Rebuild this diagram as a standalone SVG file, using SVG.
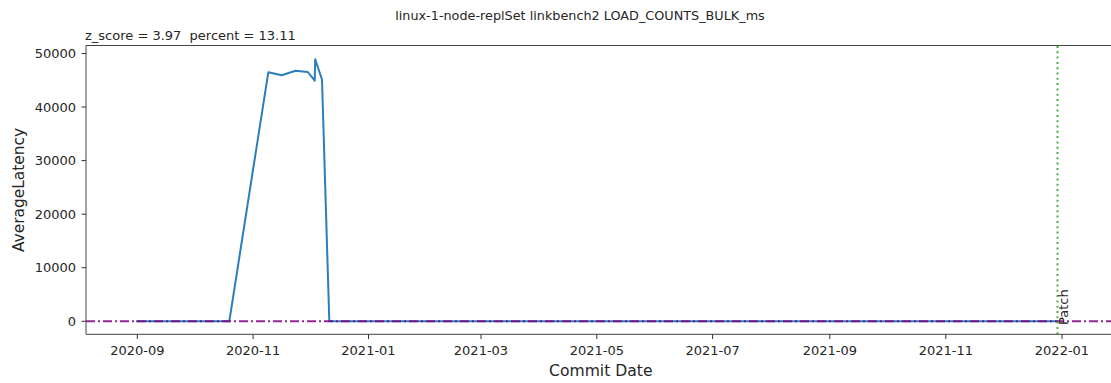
<svg xmlns="http://www.w3.org/2000/svg" width="1111" height="383" viewBox="0 0 1111 383">
<style>
text{font-family:"DejaVu Sans","Liberation Sans",sans-serif;fill:#262626}
.tick{stroke:#333;stroke-width:1}
.tl{font-size:13px}
.spine{stroke:#444;stroke-width:1;fill:none}
.pre{white-space:pre}
</style>
<rect width="1111" height="383" fill="#fff"/>
<g id="title">
<text x="580" y="19.5" font-size="12.8" text-anchor="middle">linux-1-node-replSet linkbench2 LOAD_COUNTS_BULK_ms</text>
<text class="pre" x="85" y="39.5" font-size="13" xml:space="preserve">z_score = 3.97  percent = 13.11</text>
</g>
<g id="series">
<polyline fill="none" stroke="#2a7fba" stroke-width="2" stroke-linejoin="round" points="136,321.3 229.3,321.3 268.3,72.3 281.7,75.3 295.5,70.7 307.8,72 314.7,80.7 315.2,59.2 322,79.5 329.3,321.3 1057.5,321.3"/>
<line x1="86" y1="321.3" x2="1111" y2="321.3" stroke="#800080" stroke-opacity="0.85" stroke-width="2" stroke-dasharray="9 3 2 3"/>
<line x1="1057.5" y1="46" x2="1057.5" y2="334" stroke="#2ca02c" stroke-opacity="0.85" stroke-width="2" stroke-dasharray="2 3.3"/>
<text transform="translate(1068,325) rotate(-90)" font-size="13">Patch</text>
</g>
<g id="axes">
<polyline class="spine" points="1111,45.5 86,45.5 86,334.3 1111,334.3"/>
<g class="ytick">
<line class="tick" x1="81.5" y1="321.3" x2="86" y2="321.3"/>
<line class="tick" x1="81.5" y1="267.7" x2="86" y2="267.7"/>
<line class="tick" x1="81.5" y1="214.2" x2="86" y2="214.2"/>
<line class="tick" x1="81.5" y1="160.6" x2="86" y2="160.6"/>
<line class="tick" x1="81.5" y1="107" x2="86" y2="107"/>
<line class="tick" x1="81.5" y1="53.5" x2="86" y2="53.5"/>
<text class="tl" x="76" y="326" text-anchor="end">0</text>
<text class="tl" x="76" y="272.4" text-anchor="end">10000</text>
<text class="tl" x="76" y="218.9" text-anchor="end">20000</text>
<text class="tl" x="76" y="165.3" text-anchor="end">30000</text>
<text class="tl" x="76" y="111.7" text-anchor="end">40000</text>
<text class="tl" x="76" y="58.2" text-anchor="end">50000</text>
</g>
<g class="xtick">
<line class="tick" x1="137.3" y1="334.3" x2="137.3" y2="339"/>
<line class="tick" x1="253.1" y1="334.3" x2="253.1" y2="339"/>
<line class="tick" x1="368.5" y1="334.3" x2="368.5" y2="339"/>
<line class="tick" x1="481" y1="334.3" x2="481" y2="339"/>
<line class="tick" x1="596.8" y1="334.3" x2="596.8" y2="339"/>
<line class="tick" x1="712.6" y1="334.3" x2="712.6" y2="339"/>
<line class="tick" x1="829.8" y1="334.3" x2="829.8" y2="339"/>
<line class="tick" x1="945.8" y1="334.3" x2="945.8" y2="339"/>
<line class="tick" x1="1062" y1="334.3" x2="1062" y2="339"/>
<text class="tl" x="137.3" y="354.5" text-anchor="middle">2020-09</text>
<text class="tl" x="253.1" y="354.5" text-anchor="middle">2020-11</text>
<text class="tl" x="368.5" y="354.5" text-anchor="middle">2021-01</text>
<text class="tl" x="481" y="354.5" text-anchor="middle">2021-03</text>
<text class="tl" x="596.8" y="354.5" text-anchor="middle">2021-05</text>
<text class="tl" x="712.6" y="354.5" text-anchor="middle">2021-07</text>
<text class="tl" x="829.8" y="354.5" text-anchor="middle">2021-09</text>
<text class="tl" x="945.8" y="354.5" text-anchor="middle">2021-11</text>
<text class="tl" x="1062" y="354.5" text-anchor="middle">2022-01</text>
</g>
<text x="600.8" y="376" font-size="15.6" text-anchor="middle">Commit Date</text>
<text transform="translate(24,190) rotate(-90)" font-size="15.4" text-anchor="middle">AverageLatency</text>
</g>
</svg>
